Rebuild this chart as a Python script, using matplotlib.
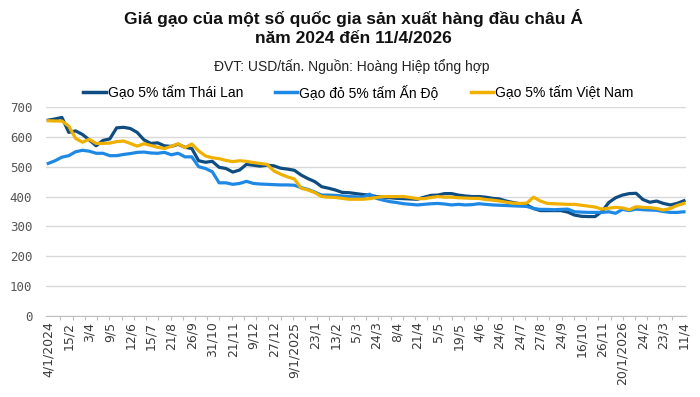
import matplotlib
matplotlib.use("Agg")
import matplotlib.pyplot as plt
import numpy as np
from matplotlib.lines import Line2D

# ---- data ----
tick_labels = ["4/1/2024", "15/2", "3/4", "9/5", "12/6", "15/7", "21/8", "26/9",
               "31/10", "21/11", "9/12", "27/12", "9/1/2025", "23/1", "13/2", "5/3",
               "24/3", "8/4", "21/4", "5/5", "19/5", "4/6", "24/6", "24/7", "27/8",
               "24/9", "16/10", "26/11", "20/1/2026", "24/2", "23/3", "11/4"]

thai = [656, 660, 665, 615, 620, 608, 590, 570, 588, 593, 630, 632, 628, 615, 590, 578,
        580, 570, 568, 575, 565, 561, 520, 515, 518, 498, 494, 482, 489, 508, 505, 502,
        505, 503, 495, 492, 488, 472, 460, 450, 433, 428, 422, 414, 413, 410, 407, 405,
        400, 398, 396, 394, 393, 392, 391, 398, 404, 405, 410, 410, 405, 402, 400, 400,
        398, 394, 392, 385, 380, 376, 372, 360, 353, 353, 353, 353, 348, 338, 334, 333,
        333, 350, 380, 396, 405, 410, 411, 390, 381, 385, 377, 372, 377, 386]

india = [511, 520, 532, 537, 550, 555, 552, 545, 545, 537, 537, 541, 544, 548, 549, 546,
         545, 548, 540, 545, 533, 533, 500, 494, 483, 446, 446, 441, 444, 451, 444, 442,
         441, 440, 439, 439, 438, 430, 424, 415, 405, 405, 404, 402, 400, 399, 398, 408,
         394, 388, 383, 380, 376, 374, 372, 374, 376, 377, 375, 372, 374, 372, 373, 376,
         374, 372, 371, 370, 369, 368, 367, 360, 357, 357, 356, 357, 358, 349, 348, 347,
         347, 347, 349, 344, 357, 353, 358, 356, 355, 354, 350, 347, 347, 349]

vietnam = [654, 653, 653, 636, 595, 582, 592, 578, 578, 579, 584, 586, 578, 569, 577, 571,
           565, 561, 568, 577, 564, 576, 553, 536, 530, 527, 521, 517, 520, 518, 514, 511,
           508, 486, 475, 466, 459, 428, 422, 413, 400, 398, 397, 394, 391, 391, 391, 393,
           397, 400, 400, 400, 400, 397, 393, 393, 397, 400, 398, 398, 396, 395, 394, 394,
           390, 388, 385, 381, 378, 377, 378, 398, 385, 377, 376, 375, 374, 374, 371, 368,
           365, 358, 361, 364, 362, 356, 366, 364, 363, 360, 355, 360, 370, 377]

series_names = ["Gạo 5% tấm Thái Lan", "Gạo đỏ 5% tấm Ấn Độ", "Gạo 5% tấm Việt Nam"]
colors = ["#0F4C81", "#1E88E5", "#F0B000"]

title = "Giá gạo của một số quốc gia sản xuất hàng đầu châu Á\nnăm 2024 đến 11/4/2026"
subtitle = "ĐVT: USD/tấn. Nguồn: Hoàng Hiệp tổng hợp"

# ---- plot ----
plt.rcParams['font.family'] = ['Liberation Sans', 'DejaVu Sans']

fig = plt.figure(figsize=(7.0, 3.97), dpi=100)
ax = fig.add_axes([0.066, 0.204, 0.914, 0.5265])

n = len(thai)
x = np.arange(n)
order = [1, 0, 2]
data = [thai, india, vietnam]
for i in order:
    ax.plot(x, data[i], color=colors[i], lw=2.3, solid_joinstyle='round', zorder=3 + i)

ax.set_ylim(0, 700)
ax.set_yticks(np.arange(0, 701, 100))
ax.set_xlim(-0.3, n - 1 + 0.3)

label_pos = np.linspace(0, n - 1, len(tick_labels))
ax.set_xticks(label_pos)
ax.set_xticks(np.linspace(0, n - 1, 53), minor=True)
ax.tick_params(axis='x', which='major', length=0, pad=4)
ax.tick_params(axis='x', which='minor', length=3, color="#bfbfbf", width=0.8)
ax.tick_params(axis='y', length=0, pad=10)
ax.set_xticklabels(tick_labels, rotation=90, fontsize=9, color="#3a3a3a",
                   family=['DejaVu Sans'])
ax.set_yticklabels([str(v) for v in range(0, 701, 100)], fontsize=9, color="#555555",
                   family=['DejaVu Sans Mono'])

ax.grid(axis='y', color="#d9d9d9", lw=1.0)
ax.set_axisbelow(True)
for s in ["top", "right", "left"]:
    ax.spines[s].set_visible(False)
ax.spines["bottom"].set_color("#bfbfbf")
ax.spines["bottom"].set_linewidth(0.8)

fig.text(0.505, 0.978, title, ha='center', va='top', fontsize=12.5, fontweight='bold',
         color="#111111", linespacing=1.35)
fig.text(0.503, 0.833, subtitle, ha='center', va='center', fontsize=10, color="#222222")

handles = [Line2D([0], [0], color=c, lw=2.5) for c in colors]
fig.legend(handles, series_names, loc='center', bbox_to_anchor=(0.512, 0.768), ncol=3,
           frameon=False, fontsize=10, handlelength=1.6, handletextpad=0.15,
           columnspacing=2.3)

fig.savefig("out.png", dpi=100)
